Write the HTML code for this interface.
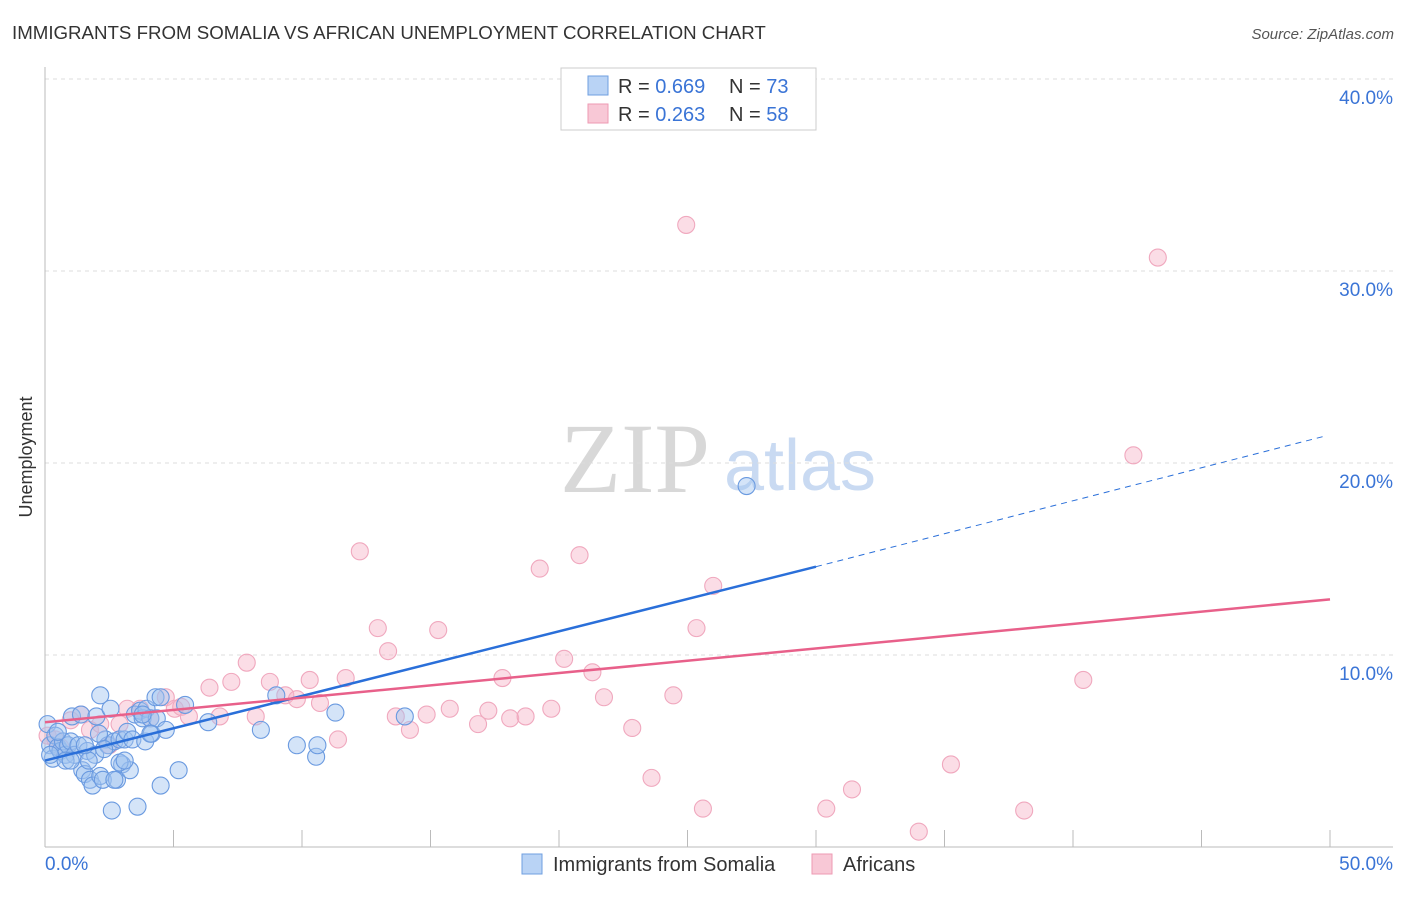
<!DOCTYPE html>
<html><head><meta charset="utf-8"><style>
body{margin:0;background:#fff;font-family:"Liberation Sans",sans-serif;}
</style></head><body>
<svg id="chart" width="1406" height="892" xmlns="http://www.w3.org/2000/svg" font-family="Liberation Sans, sans-serif">
<text x="12" y="39" font-size="18.7" fill="#333">IMMIGRANTS FROM SOMALIA VS AFRICAN UNEMPLOYMENT CORRELATION CHART</text>
<text x="1394" y="39" font-size="15" fill="#555" font-style="italic" text-anchor="end">Source: ZipAtlas.com</text>
<text x="32" y="457" font-size="18" fill="#333" transform="rotate(-90 32 457)" text-anchor="middle">Unemployment</text>
<g><text x="635" y="492" font-size="100" fill="#d8d8d8" style="font-family:'Liberation Serif',serif" text-anchor="middle">ZIP</text><text x="800" y="490" font-size="72" fill="#c9daf2" text-anchor="middle">atlas</text></g>
<g id="grid"></g><g id="axes"></g><g id="pts"></g><g id="lines"></g>
<g>
<rect x="561" y="68" width="255" height="62" fill="#fff" stroke="#ccc"/>
<rect x="588" y="76" width="20" height="19" fill="#b9d3f5" stroke="#6f9fe0"/>
<rect x="588" y="104" width="20" height="19" fill="#f8c8d6" stroke="#ee9ab3"/>
<text x="618" y="93" font-size="20" fill="#333">R = <tspan fill="#3a74d6">0.669</tspan></text>
<text x="729" y="93" font-size="20" fill="#333">N = <tspan fill="#3a74d6">73</tspan></text>
<text x="618" y="121" font-size="20" fill="#333">R = <tspan fill="#3a74d6">0.263</tspan></text>
<text x="729" y="121" font-size="20" fill="#333">N = <tspan fill="#3a74d6">58</tspan></text>
</g>
<g>
<rect x="522" y="854" width="20" height="20" fill="#b9d3f5" stroke="#6f9fe0"/>
<text x="553" y="871" font-size="20" fill="#333">Immigrants from Somalia</text>
<rect x="812" y="854" width="20" height="20" fill="#f8c8d6" stroke="#ee9ab3"/>
<text x="843" y="871" font-size="20" fill="#333">Africans</text>
</g>
</svg>
<script>
const yTicks=[10,20,30,40];
const xTickCount=10;
const blueX=[0.1,0.2,0.3,0.4,0.5,0.6,0.7,0.8,0.9,1.0,1.05,1.15,1.3,1.4,1.45,1.55,1.65,1.75,1.85,1.95,2.0,2.15,2.15,2.25,2.35,2.45,2.55,2.6,2.7,2.8,2.9,3.0,3.1,3.2,3.3,3.4,3.5,3.6,3.7,3.8,3.9,3.95,4.1,4.15,4.3,4.35,4.5,4.5,4.7,5.2,5.45,6.35,8.4,9.0,9.8,10.55,10.6,11.3,14.0,27.3,2.9,0.5,0.8,1.7,2.1,3.1,3.8,4.1,2.3,2.7,0.2,1.0,1.55];
const blueY=[6.4,5.3,4.6,5.8,5.2,5.0,5.5,4.8,5.3,5.5,6.8,4.8,5.3,6.9,4.0,3.8,5.0,3.5,3.2,4.8,6.8,7.9,3.7,3.5,5.6,5.3,7.2,1.9,5.5,3.5,5.6,4.3,5.6,6.0,4.0,5.6,6.9,2.1,7.1,6.7,5.5,7.2,6.7,5.9,7.8,6.7,3.2,7.8,6.1,4.0,7.4,6.5,6.1,7.9,5.3,4.7,5.3,7.0,6.8,18.8,4.4,6.0,4.5,4.5,5.9,4.5,6.9,5.9,5.1,3.5,4.8,4.5,5.3];
const pinkX=[0.1,0.4,0.6,1.0,1.4,1.75,2.15,2.5,2.9,3.2,3.7,4.1,4.7,5.05,5.3,5.6,6.4,6.8,7.25,7.85,8.2,8.75,9.35,9.8,10.3,10.7,11.4,11.7,12.25,12.95,13.35,13.65,14.2,14.85,15.3,15.75,16.85,17.25,17.8,18.1,18.7,19.25,19.7,20.2,20.8,21.3,21.75,22.85,23.6,24.45,24.95,25.35,25.6,26.0,30.4,31.4,34.0,35.25,38.1,40.4,42.35,43.3];
const pinkY=[5.8,5.6,5.2,6.6,6.9,6.1,6.4,5.3,6.4,7.2,7.2,6.7,7.8,7.2,7.3,6.8,8.3,6.8,8.6,9.6,6.8,8.6,7.9,7.7,8.7,7.5,5.6,8.8,15.4,11.4,10.2,6.8,6.1,6.9,11.3,7.2,6.4,7.1,8.8,6.7,6.8,14.5,7.2,9.8,15.2,9.1,7.8,6.2,3.6,7.9,32.4,11.4,2.0,13.6,2.0,3.0,0.8,4.3,1.9,8.7,20.4,30.7];
const blueFit=[0,4.5,30,14.6,49.8,21.4];
const pinkFit=[0,6.5,50,12.9];
const X=v=>45+v*25.7, Y=v=>847-v*19.2;
const NS="http://www.w3.org/2000/svg";
function mk(p,t,a){const e=document.createElementNS(NS,t);for(const k in a)e.setAttribute(k,a[k]);document.getElementById(p).appendChild(e);return e;}
yTicks.forEach(t=>{
 const l=mk('grid','line',{x1:45,x2:1393,y1:Y(t),y2:Y(t),stroke:'#ddd','stroke-dasharray':'4,4'});
 
 
 const tx=mk('grid','text',{x:1393,y:Y(t)+25,'font-size':19,fill:'#3a74d6','text-anchor':'end'});tx.textContent=t.toFixed(1)+'%';
 
 
});
mk('axes','line',{x1:45,x2:45,y1:67,y2:847,stroke:'#bbb'});
mk('axes','line',{x1:45,x2:1393,y1:847,y2:847,stroke:'#bbb'});
for(let i=1;i<=xTickCount;i++){const l=mk('axes','line',{x1:X(i*5),x2:X(i*5),y1:830,y2:847,stroke:'#bbb'});
 
 }
let t0=mk('axes','text',{x:45,y:870,'font-size':19,fill:'#3a74d6'});t0.textContent='0.0%';


let t1=mk('axes','text',{x:1393,y:870,'font-size':19,fill:'#3a74d6','text-anchor':'end'});t1.textContent='50.0%';


pinkX.forEach((v,i)=>{const c=mk('pts','circle',{cx:X(v),cy:Y(pinkY[i]),r:8.5,fill:'rgba(246,180,200,0.45)',stroke:'#f0a8be','stroke-width':1.1});
 
 });
blueX.forEach((v,i)=>{const c=mk('pts','circle',{cx:X(v),cy:Y(blueY[i]),r:8.5,fill:'rgba(160,195,240,0.45)',stroke:'#6a9ae0','stroke-width':1.1});
 
 });
let b=mk('lines','line',{x1:X(blueFit[0]),y1:Y(blueFit[1]),x2:X(blueFit[2]),y2:Y(blueFit[3]),stroke:'#2a6fd9','stroke-width':2.5});


let bd=mk('lines','line',{x1:X(blueFit[2]),y1:Y(blueFit[3]),x2:X(blueFit[4]),y2:Y(blueFit[5]),stroke:'#2a6fd9','stroke-width':1,'stroke-dasharray':'6,5'});


let p=mk('lines','line',{x1:X(pinkFit[0]),y1:Y(pinkFit[1]),x2:X(pinkFit[2]),y2:Y(pinkFit[3]),stroke:'#e8608a','stroke-width':2.5});


</script>
</body></html>
